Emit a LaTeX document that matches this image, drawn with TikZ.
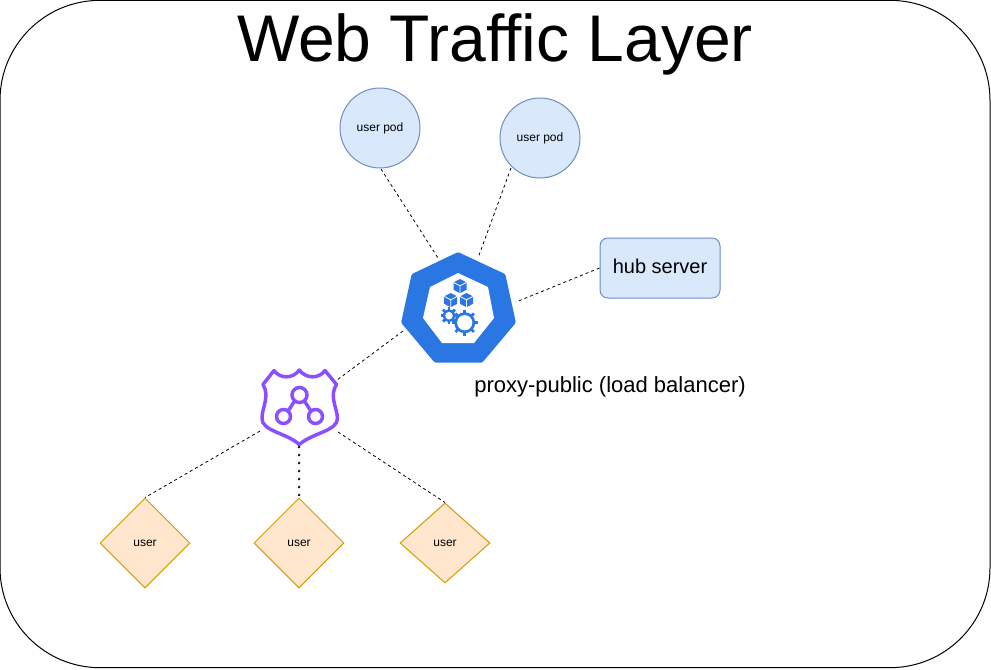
\documentclass[tikz,border=0pt]{standalone}
\usepackage{fontspec}
\setmainfont{Liberation Sans}
\usetikzlibrary{shapes.geometric}
\definecolor{kblue}{HTML}{2A76E3}
\definecolor{shieldp}{HTML}{8C4FFF}
\definecolor{podfill}{HTML}{DAE8FC}
\definecolor{podline}{HTML}{6C8EBF}
\definecolor{userfill}{HTML}{FFE6CC}
\definecolor{userline}{HTML}{D79B00}
\tikzset{
  x=0.75pt,y=-0.75pt,
  podnode/.style={circle,draw=podline,fill=podfill,line width=0.75pt,minimum size=60pt,inner sep=0pt,font=\fontsize{9}{11}\selectfont},
  hubnode/.style={rectangle,rounded corners=6pt,draw=podline,fill=podfill,line width=0.75pt,minimum width=90pt,minimum height=45pt,inner sep=0pt,font=\fontsize{15}{18}\selectfont},
  usernode/.style={diamond,draw=userline,fill=userfill,line width=0.75pt,inner sep=0pt,aspect=1,font=\fontsize{9}{11}\selectfont},
  link/.style={black,line width=0.6pt,dash pattern=on 2.25pt off 2.25pt},
  dotlink/.style={black,line width=1.9pt,line cap=round,dash pattern=on 0pt off 6pt},
  cubeicon/.pic={
    \fill[kblue] (0,-7)--(6.5,-3.6)--(6.5,3.8)--(0,7.2)--(-6.5,3.8)--(-6.5,-3.6)--cycle;
    \draw[white,line width=0.6pt] (-6.5,-3.6)--(0,-0.2)--(6.5,-3.6) (0,-0.2)--(0,7.2);
  },
  gearicon/.pic={
    \foreach \a in {0,45,...,315}{\draw[kblue,line width=2.1pt] (0,0)--(\a:\tikzpicOuter);}
    \fill[kblue] (0,0) circle[radius=\tikzpicBody];
    \fill[white] (0,0) circle[radius=\tikzpicHole];
  }
}
\begin{document}
\begin{tikzpicture}
\useasboundingbox (0,0) rectangle (991,669);
\node[draw=black,line width=0.75pt,fill=white,rounded corners=75pt,minimum width=742.5pt,minimum height=500.5pt,inner sep=0pt] (frame) at (495,334) {};
\node[font=\fontsize{49.5}{56}\selectfont,anchor=center] (title) at (495,44) {Web Traffic Layer};

\node[podnode] (pa) at (380,128) {user pod};
\node[podnode] (pb) at (540,138) {user pod};
\node[hubnode] (hub) at (660,268) {\raisebox{2.2pt}{hub server}};
\node[usernode,minimum width=67.5pt,minimum height=67.5pt] (ua) at (145,543) {user};
\node[usernode,minimum width=67.5pt,minimum height=67.5pt] (ub) at (299,543) {user};
\node[usernode,aspect=1.125,minimum width=67.5pt,minimum height=60pt] (uc) at (445,543) {user};
\node[font=\fontsize{16.5}{20}\selectfont,anchor=west,inner sep=0pt] (lbl) at (474,387) {proxy-public (load balancer)};

% Kubernetes service icon
\fill[kblue,line join=round,draw=kblue,line width=4pt]
  (458,255)--(503,276)--(513,322)--(481,360)--(436,360)--(404,322)--(414,276)--cycle;
\fill[white] (458,273)--(488,287)--(494,318)--(474,343)--(442,343)--(423,318)--(430,287)--cycle;
\pic at (460,286) {cubeicon};
\pic at (450.7,300) {cubeicon};
\pic at (466.5,300) {cubeicon};
\def\tikzpicOuter{8.5}\def\tikzpicBody{6.2}\def\tikzpicHole{3.8}
\pic at (449,315.7) {gearicon};
\def\tikzpicOuter{13}\def\tikzpicBody{10.5}\def\tikzpicHole{7.6}
\pic at (464.7,322.7) {gearicon};

% Shield icon
\draw[shieldp,line width=2.6pt,line join=round]
  (274,370.5) .. controls (280,379) and (293,379) .. (299.3,370)
  .. controls (306,379) and (319,379) .. (325,370.5)
  -- (336.5,384.5)
  .. controls (329,396) and (337,408) .. (337.5,418)
  .. controls (338,431) and (312,433) .. (299.3,444.5)
  .. controls (287,433) and (261,431) .. (262,418)
  .. controls (262,408) and (270,396) .. (263,384.5) -- cycle;
\draw[shieldp,line width=2.6pt] (299.5,395)circle[radius=7.5] (283.5,416.5)circle[radius=7] (315.5,416.5)circle[radius=7]
  (294.5,401)--(288.5,410.5) (304.5,401)--(310.5,410.5);

% Connector ends at the icons
\coordinate (kt1) at (438,258);
\coordinate (kt2) at (478,258);
\coordinate (kr) at (516,302);
\coordinate (kl) at (403,331);
\coordinate (sr) at (337,380);
\coordinate (sbl) at (260,431);
\coordinate (sbr) at (338,432);
\coordinate (sb) at (299,447);
\coordinate (pae) at (381,169);
\coordinate (pbe) at (511,168);

\draw[link] (pae)--(kt1);
\draw[link] (pbe)--(kt2);
\draw[link] (hub.west)--(kr);
\draw[link] (kl)--(sr);
\draw[link] (sbl)--(ua.north);
\draw[link] (sbr)--(uc.north);
\draw[dotlink] (sb)--(ub.north);
\end{tikzpicture}
\end{document}
